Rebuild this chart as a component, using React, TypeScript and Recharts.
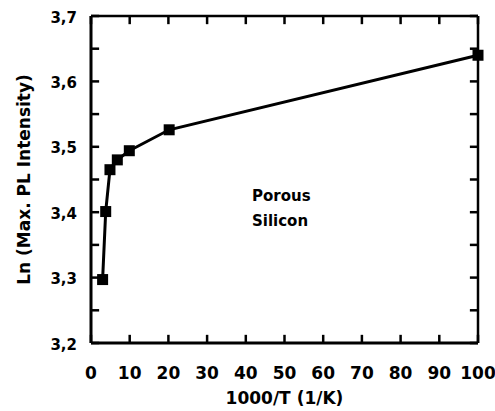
import React from "react";
import { LineChart, Line, XAxis, YAxis, ReferenceLine } from "recharts";

// values
const invTemp = [3.0, 3.8, 4.9, 6.8, 9.9, 20.2, 100];
const lnIntensity = [3.297, 3.401, 3.465, 3.48, 3.494, 3.526, 3.64];
const xTicks = [0, 10, 20, 30, 40, 50, 60, 70, 80, 90, 100];
const yTicks = [3.2, 3.25, 3.3, 3.35, 3.4, 3.45, 3.5, 3.55, 3.6, 3.65, 3.7];

const data = invTemp.map((x, i) => ({ x, y: lnIntensity[i] }));

const FONT = "'DejaVu Sans', 'Liberation Sans', Arial, sans-serif";

const X_MIN = 0;
const X_MAX = 100;
const Y_MIN = 3.2;
const Y_MAX = 3.7;
// inward tick length in data units (about 8px)
const TICK_X = 2.1;
const TICK_Y = 0.0125;

const SquareDot = (props: any) => {
  const { cx, cy } = props;
  if (cx == null || cy == null) return null;
  return <rect x={cx - 5.5} y={cy - 5.5} width={11} height={11} fill="#000" />;
};

const XTickLabel = (props: any) => {
  const { x, y, payload } = props;
  return (
    <text x={x} y={y + 36} textAnchor="middle" fill="#000" fontSize={17} fontWeight="bold" fontFamily={FONT}>
      {payload.value}
    </text>
  );
};

// label only every 0.1, the 0.05 ones are bare ticks
const YTickLabel = (props: any) => {
  const { x, y, payload } = props;
  const v = payload.value as number;
  if (Math.round(v * 100) % 10 !== 0) return null;
  return (
    <text x={x - 6} y={y + 6.5} textAnchor="end" fill="#000" fontSize={15} fontWeight="bold" fontFamily={FONT}>
      {v.toFixed(1).replace(".", ",")}
    </text>
  );
};

const tickStyle = { stroke: "#000", strokeWidth: 2.5 };

export default function App() {
  return (
    <div style={{ position: "absolute", left: 0, top: 0, width: 495, height: 411, background: "#fff" }}>
      <LineChart
        width={495}
        height={411}
        data={data}
        margin={{ top: 16, right: 17, bottom: 0, left: 0 }}
        style={{ fontFamily: FONT }}
      >
        <ReferenceLine y={Y_MAX} stroke="#000" strokeWidth={2.5} />
        <ReferenceLine x={X_MAX} stroke="#000" strokeWidth={2.5} />
        {xTicks.map((t) => (
          <ReferenceLine key={"xb" + t} segment={[{ x: t, y: Y_MIN }, { x: t, y: Y_MIN + TICK_Y }]} {...tickStyle} />
        ))}
        {xTicks.map((t) => (
          <ReferenceLine key={"xt" + t} segment={[{ x: t, y: Y_MAX }, { x: t, y: Y_MAX - TICK_Y }]} {...tickStyle} />
        ))}
        {yTicks.map((t) => (
          <ReferenceLine key={"yl" + t} segment={[{ x: X_MIN, y: t }, { x: X_MIN + TICK_X, y: t }]} {...tickStyle} />
        ))}
        {yTicks.map((t) => (
          <ReferenceLine key={"yr" + t} segment={[{ x: X_MAX, y: t }, { x: X_MAX - TICK_X, y: t }]} {...tickStyle} />
        ))}
        <XAxis
          dataKey="x"
          type="number"
          domain={[X_MIN, X_MAX]}
          ticks={xTicks}
          interval={0}
          height={68}
          axisLine={{ stroke: "#000", strokeWidth: 3 }}
          tickLine={false}
          tickSize={0}
          tickMargin={0}
          tick={<XTickLabel />}
          label={{
            value: "1000/T (1/K)",
            position: "insideBottom",
            offset: 7,
            style: { fill: "#000", fontSize: 17, fontWeight: "bold" },
          }}
        />
        <YAxis
          dataKey="y"
          type="number"
          domain={[Y_MIN, Y_MAX]}
          ticks={yTicks}
          width={91}
          interval={0}
          axisLine={{ stroke: "#000", strokeWidth: 3 }}
          tickLine={false}
          tickSize={0}
          tickMargin={8}
          tick={<YTickLabel />}
          label={{
            value: "Ln (Max. PL Intensity)",
            angle: -90,
            position: "insideLeft",
            offset: 24,
            style: { fill: "#000", fontSize: 17, fontWeight: "bold", textAnchor: "middle" },
          }}
        />
        <Line
          dataKey="y"
          type="linear"
          stroke="#000"
          strokeWidth={3}
          dot={<SquareDot />}
          activeDot={false}
          isAnimationActive={false}
        />
      </LineChart>
      <div
        style={{
          position: "absolute",
          left: 252,
          top: 184,
          fontFamily: FONT,
          fontWeight: "bold",
          fontSize: 15,
          lineHeight: "25px",
          color: "#000",
        }}
      >
        <div>Porous</div>
        <div>Silicon</div>
      </div>
    </div>
  );
}
